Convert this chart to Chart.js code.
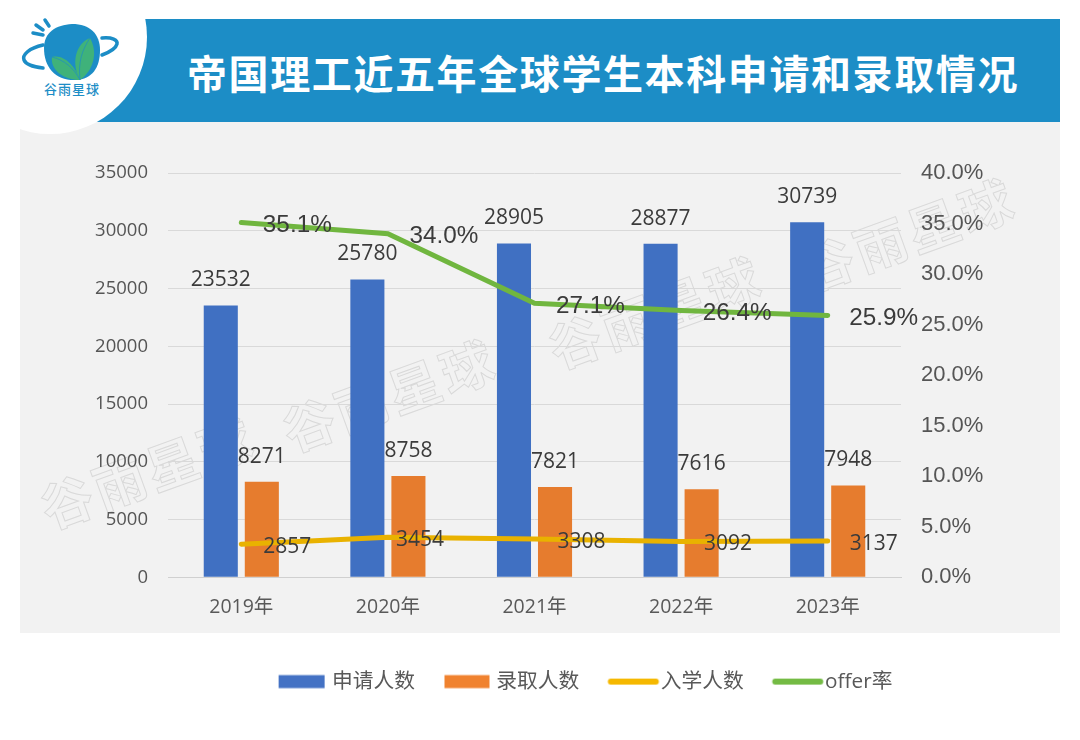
<!DOCTYPE html>
<html><head><meta charset="utf-8">
<script src="https://cdn.jsdelivr.net/npm/chart.js@4/dist/chart.umd.min.js"></script>
<style>
html,body{margin:0;padding:0;background:#fff;width:1080px;height:740px;overflow:hidden}
body{position:relative;font-family:"Open Sans","Noto Sans CJK SC",sans-serif}
#panel{position:absolute;left:20px;top:122px;width:1040px;height:511px;background:#f2f2f2}
#head{position:absolute;left:48px;top:19px;width:1012px;height:103px;background:#1c8dc6}
#circle{position:absolute;left:-47px;top:-60px;width:194px;height:194px;border-radius:50%;background:#fff}
#title{position:absolute;left:187px;top:43px;width:840px;color:#fff;font:700 40px "Noto Sans CJK SC";letter-spacing:1.6px;line-height:58px;white-space:nowrap}
#logo{position:absolute;left:0;top:0}
canvas{position:absolute;left:0;top:0}
.wm{position:absolute;font:700 52px "Noto Sans CJK SC";color:transparent;-webkit-text-stroke:1px #d9d9d9;transform:translate(-50%,-50%) rotate(-20deg);white-space:nowrap;letter-spacing:4px;pointer-events:none}
</style></head><body>
<div id="panel"></div>
<div id="head"></div>
<div id="circle"></div>
<svg id="logo" width="146" height="120" viewBox="0 0 146 120">
<path d="M44 48C44 32 56 25 72 24C90 24 100 34 100 50C100 68 92 79 76 80C56 81 44 68 44 48Z" fill="#1c8dc6"/>
<path d="M80 80C71 64 75 44 90 38C98 52 94 70 80 80Z" fill="#3fb27a"/>
<path d="M80 80C75 66 64 54 52 57C50 70 64 80 80 80Z" fill="#3fb27a"/>
<path d="M80 80C78 62 82 50 90 38M80 80C74 68 64 60 52 57" fill="none" stroke="#1c8dc6" stroke-width=".7"/>
<path d="M43 45C29 48 22 55 24 60C26 65 34 67 43 68M102 38C112 37 118 40 117 44C116 48 110 52 102 55" fill="none" stroke="#1c8dc6" stroke-width="3.5" stroke-linecap="round"/>
<path d="M33 33L43 35M36 25L43 30M45 20L49 26" fill="none" stroke="#1c8dc6" stroke-width="3.5" stroke-linecap="round"/>
<text x="72" y="94" text-anchor="middle" font-family="Noto Sans CJK SC" font-weight="500" font-size="13" letter-spacing="1" fill="#1c8dc6">谷雨星球</text>
</svg>
<div id="title">帝国理工近五年全球学生本科申请和录取情况</div>
<div class="wm" style="left:147px;top:470px">谷雨星球</div>
<div class="wm" style="left:389px;top:393px">谷雨星球</div>
<div class="wm" style="left:655px;top:310px">谷雨星球</div>
<div class="wm" style="left:908px;top:232px">谷雨星球</div>
<canvas id="c" width="1080" height="740"></canvas>
<script>
const categories=["2019年","2020年","2021年","2022年","2023年"];
const applicants=[23532,25780,28905,28877,30739];
const admitted=[8271,8758,7821,7616,7948];
const enrolled=[2857,3454,3308,3092,3137];
const offerRate=[35.1,34.0,27.1,26.4,25.9];
const seriesNames=["申请人数","录取人数","入学人数","offer率"];
const leftTicks=[0,5000,10000,15000,20000,25000,30000,35000];
const enrolledLabelShift=[46,32,47,47,46];
const BLUE="#4070c2",ORANGE="#e67c2e",YELLOW="#e9b200",GREEN="#70b63f";
const FONT='"Open Sans","Noto Sans CJK SC",sans-serif';
const ARIAL='"Liberation Sans",sans-serif';
function swatch(color,w,h,off,round){
  const c=document.createElement('canvas');c.width=70;c.height=20;
  const x=c.getContext('2d');x.fillStyle=color;x.beginPath();
  x.roundRect(35-w/2+off,10-h/2,w,h,round);x.fill();return c;
}
const swatches=[swatch("#4472c4",46,13,0,0),swatch("#f0822f",45,13,1,0),swatch("#f5b800",51,6,3,3),swatch("#74bb44",51,6,3,3)];
const labelPlugin={id:'valueLabels',afterDatasetsDraw(chart){
  const g=chart.ctx;g.save();g.textAlign='center';g.textBaseline='middle';g.fillStyle='#3b3b3b';
  const put=(i,font,fmt,dx,dy)=>{
    g.font=font;
    chart.getDatasetMeta(i).data.forEach((el,k)=>{
      g.fillText(fmt(chart.data.datasets[i].data[k]),el.x+dx(k),el.y+dy);
    });
  };
  const f='21px '+FONT;
  put(0,f,String,()=>0,-25);
  put(1,f,String,()=>0,-25);
  put(2,f,String,k=>enrolledLabelShift[k],2.5);
  put(3,'24.3px '+ARIAL,v=>v.toFixed(1)+'%',()=>56,2.5);
  g.restore();
}};
const legendShift={id:'legendShift',afterLayout(chart){chart.legend.left+=47;chart.legend.right+=47;}};
new Chart(document.getElementById('c'),{
  type:'bar',
  data:{labels:categories,datasets:[
    {type:'bar',label:seriesNames[0],data:applicants,backgroundColor:BLUE,yAxisID:'y',order:2},
    {type:'bar',label:seriesNames[1],data:admitted,backgroundColor:ORANGE,yAxisID:'y',order:2},
    {type:'line',label:seriesNames[2],data:enrolled,borderColor:YELLOW,backgroundColor:YELLOW,borderWidth:5,pointRadius:0,borderCapStyle:'round',tension:0,yAxisID:'y',order:1},
    {type:'line',label:seriesNames[3],data:offerRate,borderColor:GREEN,backgroundColor:GREEN,borderWidth:5,pointRadius:0,borderCapStyle:'round',tension:0,yAxisID:'y1',order:1}
  ]},
  options:{
    responsive:false,animation:false,devicePixelRatio:1,
    layout:{padding:{top:173,bottom:38,left:0,right:0}},
    datasets:{bar:{categoryPercentage:0.56,barPercentage:0.83}},
    plugins:{
      tooltip:{enabled:false},
      legend:{position:'bottom',align:'center',labels:{
        usePointStyle:true,pointStyleWidth:40,padding:31,color:'#595959',font:{family:FONT,size:20.75},
        generateLabels(chart){return chart.data.datasets.map((d,i)=>({text:d.label,pointStyle:swatches[i],datasetIndex:i,fontColor:'#595959',hidden:false,lineWidth:0,strokeStyle:'transparent',fillStyle:'transparent'}));}
      }}
    },
    scales:{
      x:{grid:{display:false},border:{color:'#d0d0d0',width:1},ticks:{color:'#595959',font:{family:FONT,size:19.5},padding:10,maxRotation:0},afterFit(s){s.height=63;}},
      y:{min:0,max:35000,afterBuildTicks(s){s.ticks=leftTicks.map(v=>({value:v}));},grid:{color:'#d9d9d9',drawTicks:false},border:{display:false},ticks:{color:'#555555',font:{family:FONT,size:18.5},padding:20,callback:v=>String(v)},afterFit(s){s.width=168;}},
      y1:{position:'right',min:0,max:40,grid:{display:false},border:{display:false},ticks:{stepSize:5,color:'#555555',font:{family:ARIAL,size:22},padding:12,callback:v=>v.toFixed(1)+'%'},afterFit(s){s.width=179;}}
    }
  },
  plugins:[labelPlugin,legendShift]
});
</script>
</body></html>
